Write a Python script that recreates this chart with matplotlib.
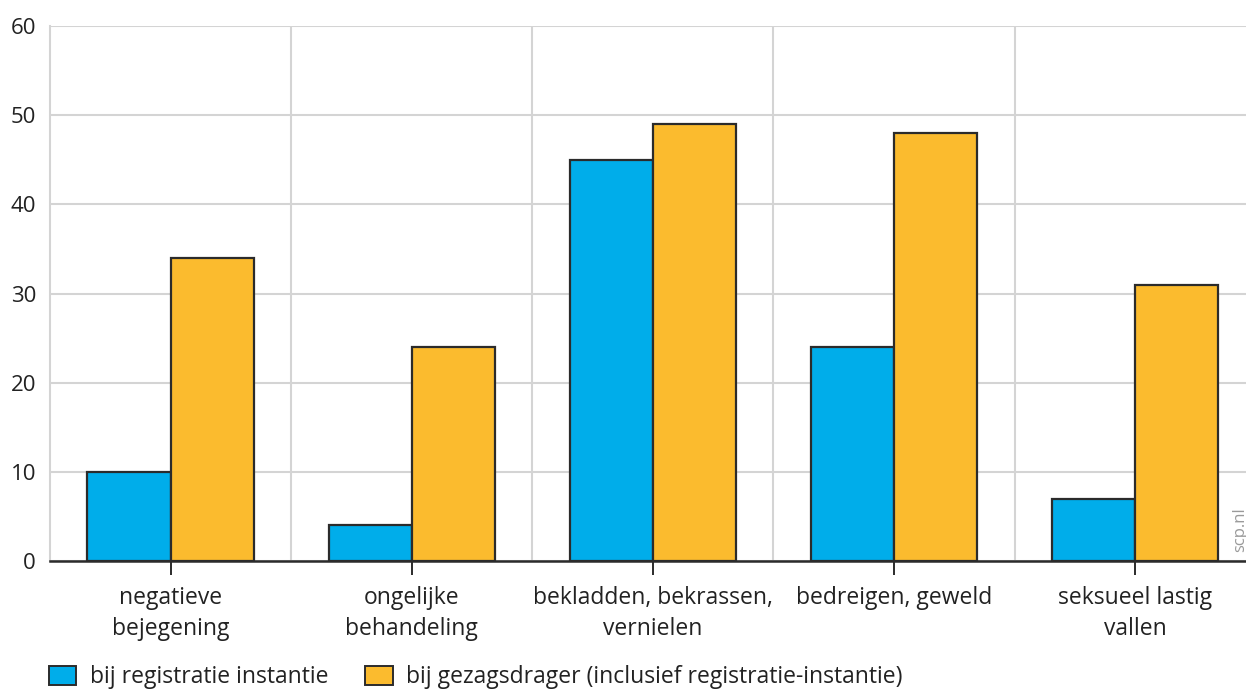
import matplotlib
matplotlib.use("Agg")
import matplotlib.pyplot as plt
import numpy as np
from matplotlib.patches import Patch

# =====================
# Data
# =====================
categories = ["negatieve\nbejegening", "ongelijke\nbehandeling", "bekladden, bekrassen,\nvernielen",
              "bedreigen, geweld", "seksueel lastig\nvallen"]
registratie = [10, 4, 45, 24, 7]
gezagsdrager = [34, 24, 49, 48, 31]
series_labels = ["bij registratie instantie", "bij gezagsdrager (inclusief registratie-instantie)"]
y_ticks = [0, 10, 20, 30, 40, 50, 60]

blue = "#00adea"
orange = "#fbbb2e"
edge = "#2b2b2b"
grid = "#d4d4d4"

plt.rcParams["font.family"] = ["Open Sans", "DejaVu Sans"]

fig = plt.figure(figsize=(12.46, 6.89), dpi=100)
ax = fig.add_axes([50 / 1246, 128 / 689, 1 - 50 / 1246, 535 / 689])

x = np.arange(len(categories))
w = 0.345
ax.bar(x - w / 2, registratie, w, color=blue, edgecolor=edge, linewidth=1.6, zorder=3)
ax.bar(x + w / 2, gezagsdrager, w, color=orange, edgecolor=edge, linewidth=1.6, zorder=3)

ax.set_xlim(-0.5, 4.46)
ax.set_ylim(0, 60)
ax.set_yticks(y_ticks)
ax.set_yticklabels([str(v) for v in y_ticks], fontsize=16, color="#222222")
ax.tick_params(axis="y", length=0, pad=10)

ax.set_xticks(x)
ax.set_xticklabels(categories, fontsize=16.5, color="#222222", linespacing=1.4)
ax.tick_params(axis="x", length=10, width=1.4, color=edge, pad=8, direction="out")

# grid
ax.set_axisbelow(True)
ax.yaxis.grid(True, color=grid, linewidth=1.5)
for b in np.arange(0.5, 4.5, 1):
    ax.axvline(b, color=grid, linewidth=1.5, zorder=0)

for side in ["top", "right"]:
    ax.spines[side].set_visible(False)
ax.spines["left"].set_color(grid)
ax.spines["left"].set_linewidth(1.5)
ax.spines["bottom"].set_color(edge)
ax.spines["bottom"].set_linewidth(1.8)
ax.spines["bottom"].set_zorder(4)

# watermark
fig.text(1240 / 1246, 1 - 530 / 689, "scp.nl", rotation=90, fontsize=12, color="#9a9a9a",
         ha="center", va="center")

# legend
handles = [Patch(facecolor=blue, edgecolor=edge, linewidth=1.4),
           Patch(facecolor=orange, edgecolor=edge, linewidth=1.4)]
fig.legend(handles, series_labels, loc="lower left", bbox_to_anchor=(28 / 1246, -0.03), ncol=2,
           frameon=False, fontsize=16.5, handlelength=1.2, handleheight=0.9, handletextpad=0.6,
           columnspacing=1.6, labelcolor="#222222")

fig.savefig("out.png", dpi=100)
